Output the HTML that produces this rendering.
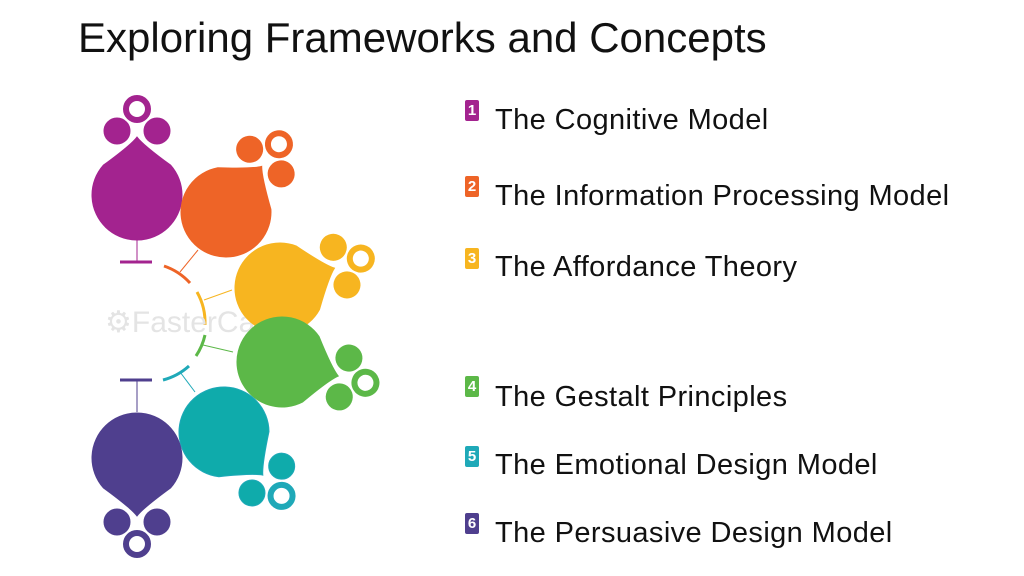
<!DOCTYPE html>
<html><head><meta charset="utf-8"><style>
body{margin:0;width:1024px;height:576px;background:#fff;overflow:hidden;position:relative;font-family:"Liberation Sans",Arial,sans-serif}
.t{position:absolute;left:78px;top:14px;font-size:42px;color:#111;white-space:nowrap}
.i{position:absolute;left:495px;font-size:29px;letter-spacing:0.4px;color:#111;white-space:nowrap;line-height:32px}
.b{position:absolute;left:465px;width:14px;height:21px;color:#fff;font-weight:bold;font-size:15px;text-align:center;line-height:21px;border-radius:2px}
</style></head><body>
<div class="t">Exploring Frameworks and Concepts</div>
<div class="b" style="top:100px;background:#a3238f">1</div><div class="i" style="top:104px">The Cognitive Model</div>
<div class="b" style="top:176px;background:#ee6427">2</div><div class="i" style="top:180px">The Information Processing Model</div>
<div class="b" style="top:248px;background:#f7b520">3</div><div class="i" style="top:251px">The Affordance Theory</div>
<div class="b" style="top:376px;background:#5cb848">4</div><div class="i" style="top:381px">The Gestalt Principles</div>
<div class="b" style="top:446px;background:#1fa9b8">5</div><div class="i" style="top:449px">The Emotional Design Model</div>
<div class="b" style="top:513px;background:#4f3f8e">6</div><div class="i" style="top:517px">The Persuasive Design Model</div>
<svg width="1024" height="576" style="position:absolute;left:0;top:0">
<defs>
<g id="bl">
<path d="M0,-58 Q6,-50 33.7,-29.8 A45 45 0 1 1 -33.7,-29.8 Q-6,-50 0,-58 Z"/>
<circle cx="-20" cy="-64" r="13"/><circle cx="20" cy="-64" r="13"/>
<circle cx="0" cy="-86" r="11" fill="none" stroke-width="6"/>
</g>
</defs>
<g fill="none" stroke-width="3">
<path d="M120,262 L152,262" stroke="#a3238f"/>
<path d="M164,266 A62 62 0 0 1 190,283" stroke="#ee6427"/>
<path d="M197,292 A62 62 0 0 1 205,325" stroke="#f7b520"/>
<path d="M205,335 A62 62 0 0 1 196,356" stroke="#5cb848"/>
<path d="M189,366 A62 62 0 0 1 163,380" stroke="#1fa9b8"/>
<path d="M120,380 L152,380" stroke="#4f3f8e"/>
<g stroke-width="1">
<line x1="137" y1="240" x2="137" y2="262" stroke="#a3238f"/>
<line x1="180" y1="272" x2="198" y2="250" stroke="#ee6427"/>
<line x1="204" y1="300" x2="232" y2="290" stroke="#f7b520"/>
<line x1="203" y1="345" x2="233" y2="352" stroke="#5cb848"/>
<line x1="180" y1="372" x2="195" y2="392" stroke="#1fa9b8"/>
<line x1="137" y1="380" x2="137" y2="412" stroke="#4f3f8e"/>
</g></g>
<text x="105" y="332" font-size="30" fill="#e4e4e4" font-family="Liberation Sans">⚙FasterCapital</text>
<use href="#bl" transform="translate(137,195)" fill="#a3238f" stroke="#a3238f"/>
<use href="#bl" transform="translate(226,212) rotate(38)" fill="#ee6427" stroke="#ee6427"/>
<use href="#bl" transform="translate(280,288) rotate(70)" fill="#f7b520" stroke="#f7b520"/>
<use href="#bl" transform="translate(282,362) rotate(104)" fill="#5cb848" stroke="#5cb848"/>
<use href="#bl" transform="translate(224,432) rotate(138)" fill="#0fabab" stroke="#1fa9b8"/>
<use href="#bl" transform="translate(137,458) rotate(180)" fill="#4f3f8e" stroke="#4f3f8e"/>
</svg>
</body></html>
